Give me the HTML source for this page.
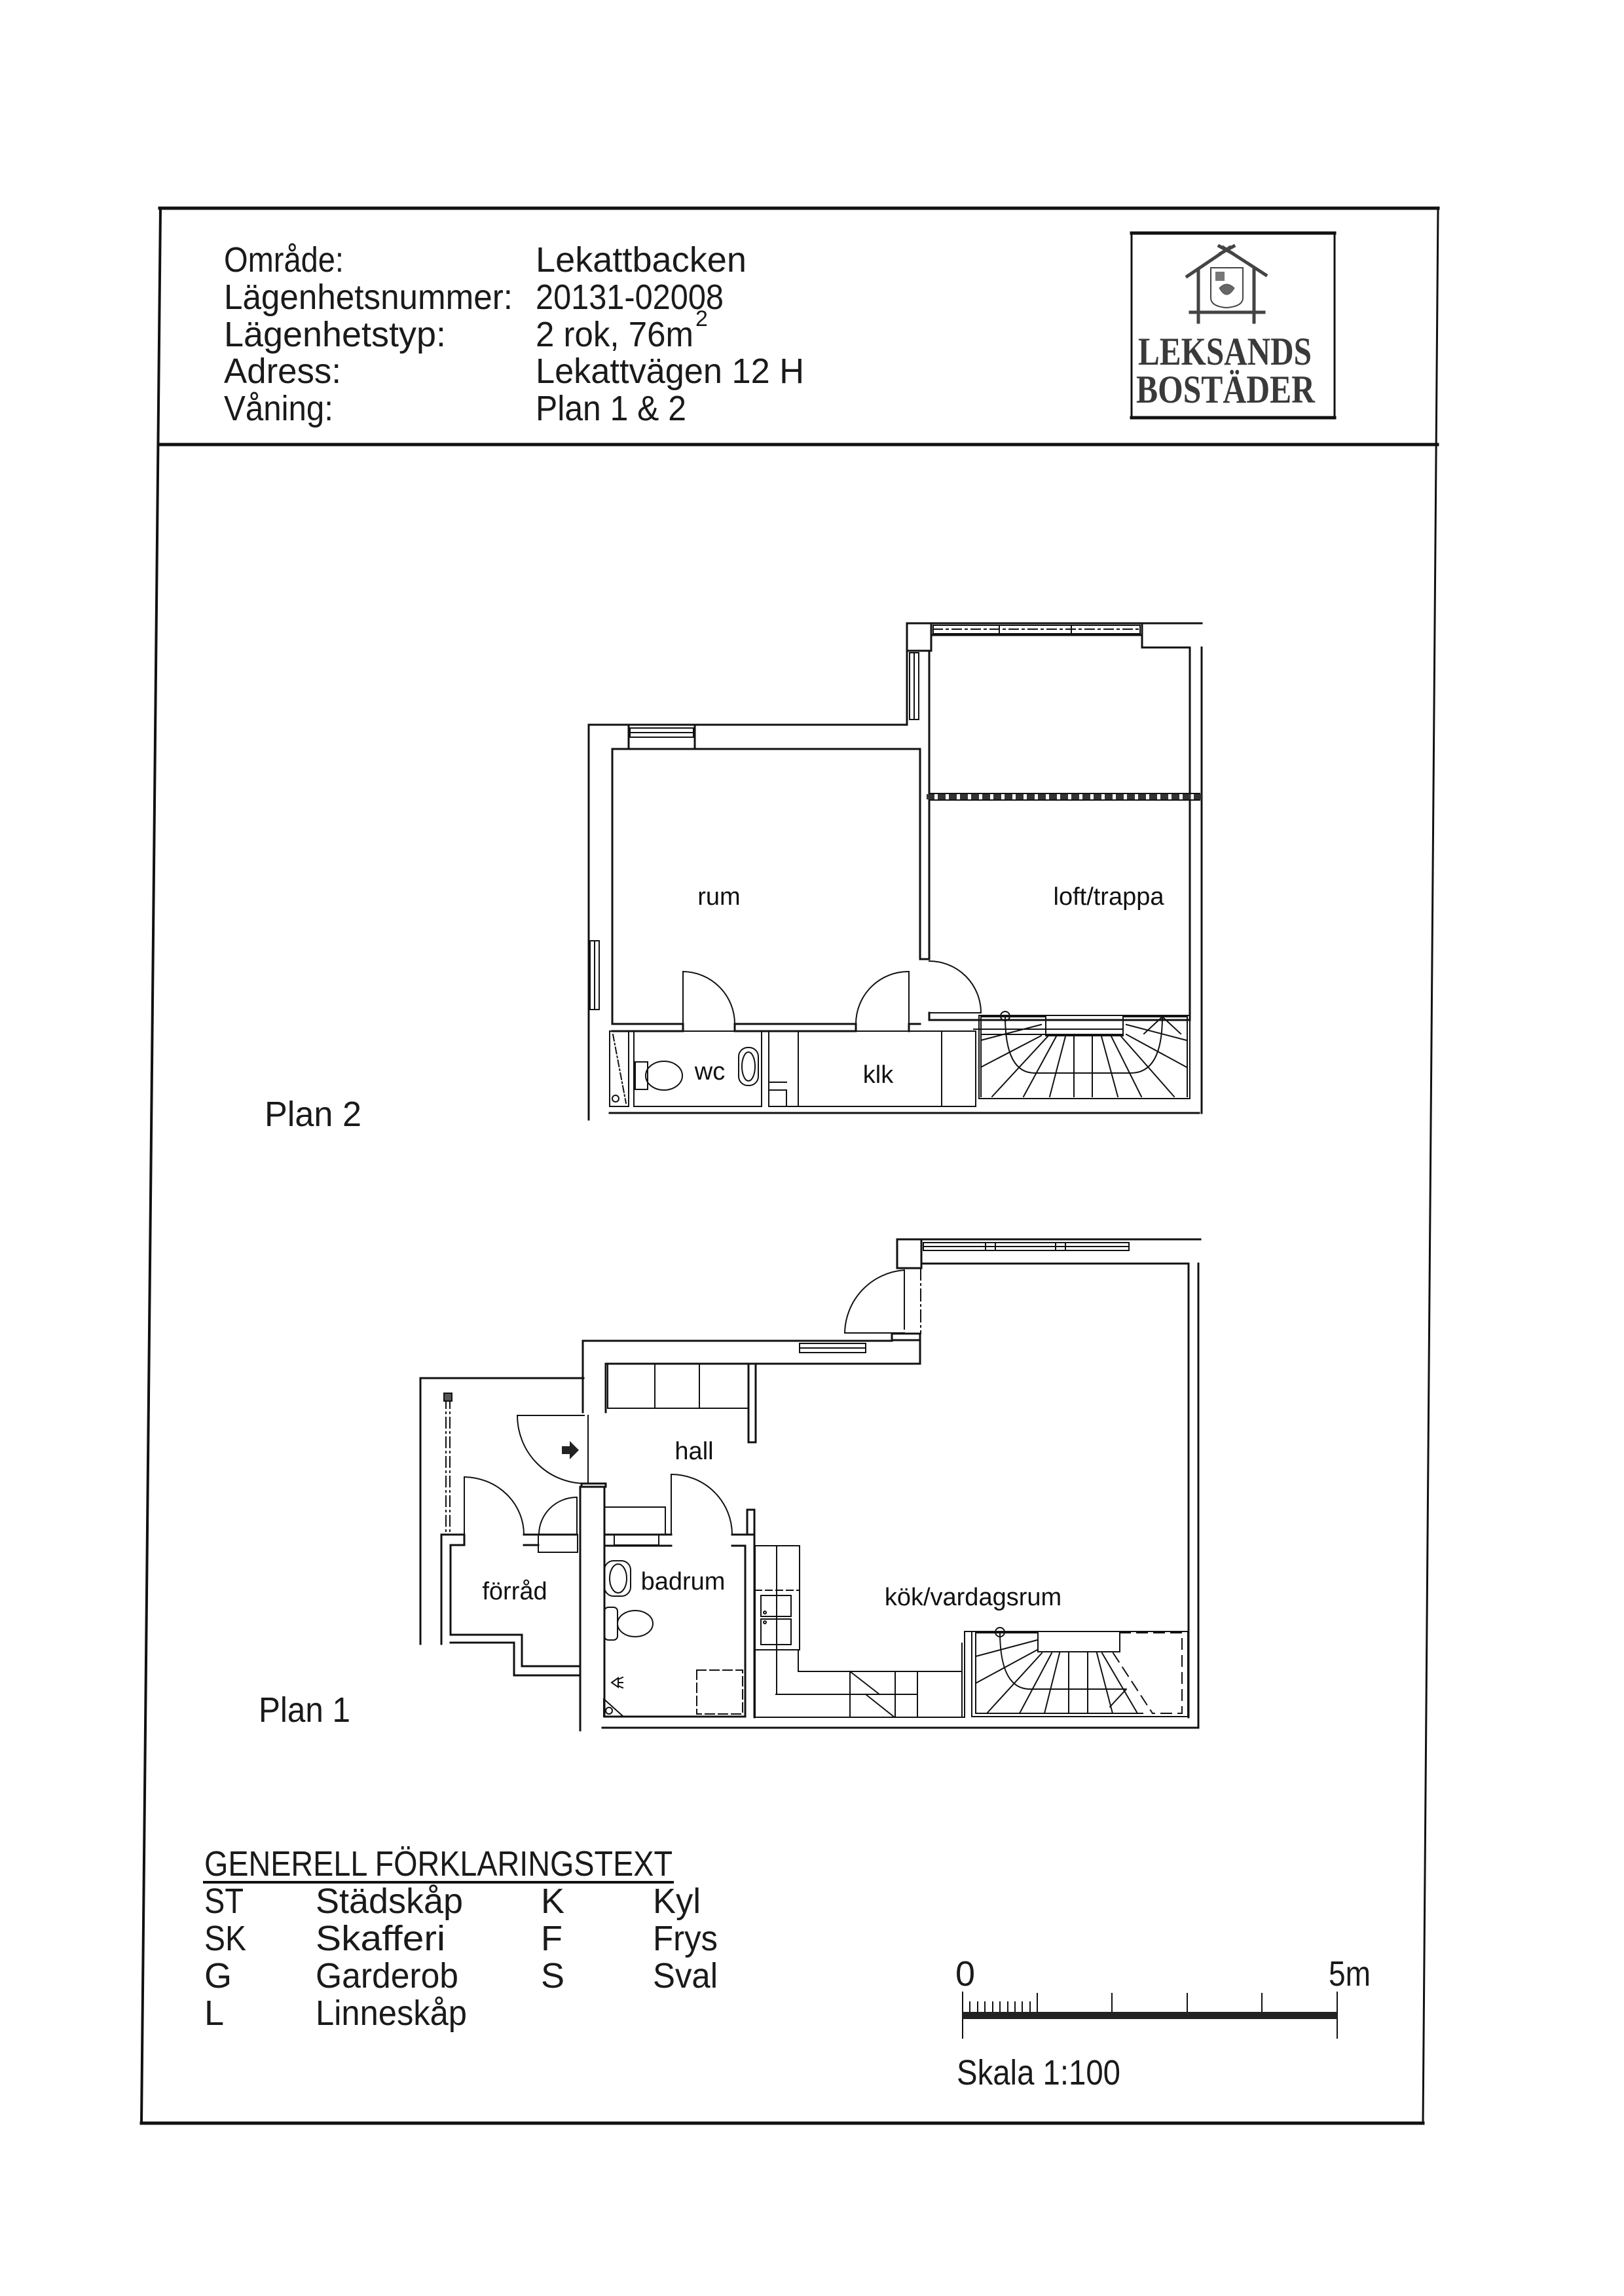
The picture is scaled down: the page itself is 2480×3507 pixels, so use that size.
<!DOCTYPE html>
<html><head><meta charset="utf-8"><style>
html,body{margin:0;padding:0;background:#fff}
svg{display:block}
.h{font-family:"Liberation Sans Narrow","Liberation Sans",sans-serif;fill:#1a1a1a}
.r{font-family:"Liberation Sans",sans-serif;fill:#111;font-size:38px}
</style></head><body>
<svg xmlns="http://www.w3.org/2000/svg" width="2480" height="3507" viewBox="0 0 2480 3507">
<g stroke="#111" fill="none" stroke-linecap="square">
<!-- frame -->
<line x1="244" y1="318" x2="2196" y2="318" stroke-width="5"/>
<line x1="245" y1="318" x2="216" y2="3243" stroke-width="4"/>
<line x1="2196" y1="318" x2="2173" y2="3243" stroke-width="3"/>
<line x1="216" y1="3243" x2="2173" y2="3243" stroke-width="5"/>
<line x1="244" y1="679" x2="2195" y2="679" stroke-width="5"/>
<!-- logo -->
<g transform="translate(-10,0)">
<rect x="1738" y="356" width="310" height="282" stroke-width="3"/>
<line x1="1738" y1="356" x2="2048" y2="356" stroke-width="5"/>
<line x1="1738" y1="638" x2="2048" y2="638" stroke-width="5"/>
<g stroke="#444" stroke-width="5">
<line x1="1823" y1="422" x2="1888" y2="378"/><line x1="1943" y1="420" x2="1878" y2="378"/>
<line x1="1872" y1="376" x2="1892" y2="387"/><line x1="1894" y1="376" x2="1874" y2="387"/>
<line x1="1840" y1="412" x2="1840" y2="492"/><line x1="1925" y1="412" x2="1925" y2="492"/>
<line x1="1828" y1="477" x2="1940" y2="477"/>
</g>
<path d="M1859 409 H1908 V455 Q1908 468 1883 470 Q1859 468 1859 455 Z" stroke="#444" stroke-width="2"/>
<path d="M1872 440 Q1883 428 1895 440 Q1883 460 1872 440Z" fill="#666" stroke="#555"/>
<rect x="1866" y="415" width="14" height="14" fill="#777" stroke="none"/>
</g>

<!-- ================= PLAN 2 ================= -->
<g stroke-width="3">
<polyline points="899,1710 899,1107 1385,1107 1385,952 1835,952"/>
<line x1="931" y1="1700" x2="1831" y2="1700"/>
<line x1="1835" y1="989" x2="1835" y2="1700"/>
<polyline points="935,1564 935,1144 1405,1144 1405,1465 1419,1465 1419,994"/>
<line x1="960" y1="1110" x2="960" y2="1144"/><line x1="1061" y1="1110" x2="1061" y2="1144"/>
<rect x="1385" y="952" width="37" height="42"/>
<line x1="1422" y1="970" x2="1744" y2="970"/>
<polyline points="1744,952 1744,989 1817,989 1817,1558"/>
<polyline points="935,1564 1043,1564 1043,1575"/>
<polyline points="1122,1575 1122,1564 1307,1564 1307,1575"/>
<polyline points="1388,1575 1388,1564 1405,1564"/>
<line x1="935" y1="1575" x2="1043" y2="1575"/>
<line x1="1122" y1="1575" x2="1307" y2="1575"/>
<polyline points="1419,1547 1419,1558 1817,1558"/>
</g>
<g stroke-width="2">
<rect x="962" y="1112" width="97" height="14"/><line x1="962" y1="1119" x2="1059" y2="1119"/>
<rect x="1389" y="997" width="14" height="102"/><line x1="1396" y1="997" x2="1396" y2="1099"/>
<rect x="901" y="1437" width="14" height="105"/><line x1="908" y1="1437" x2="908" y2="1542"/>
<rect x="1425" y="955" width="316" height="13"/>
<line x1="1425" y1="961" x2="1741" y2="961" stroke-dasharray="14 6 3 6"/>
<line x1="1526" y1="955" x2="1526" y2="968"/><line x1="1636" y1="955" x2="1636" y2="968"/>
<rect x="1419" y="1212" width="413" height="10"/>
<line x1="1419" y1="1217" x2="1832" y2="1217" stroke-dasharray="4 13" stroke-width="8" stroke="#333"/>
<line x1="1043" y1="1564" x2="1043" y2="1484"/><path d="M1043 1484 A80 80 0 0 1 1122 1564"/>
<line x1="1388" y1="1564" x2="1388" y2="1484"/><path d="M1388 1484 A80 80 0 0 0 1307 1564"/>
<line x1="1419" y1="1547" x2="1498" y2="1547"/><path d="M1419 1468 A79 79 0 0 1 1498 1547"/>
<rect x="968" y="1575" width="195" height="115"/>
<rect x="931" y="1575" width="29" height="115"/>
<line x1="936" y1="1580" x2="956" y2="1685" stroke-dasharray="10 4 2 4"/>
<circle cx="940" cy="1678" r="5"/>
<rect x="970" y="1622" width="19" height="42"/>
<ellipse cx="1014" cy="1643" rx="28" ry="22"/>
<rect x="1128" y="1600" width="30" height="58" rx="14"/><ellipse cx="1143" cy="1629" rx="10" ry="22"/>
<rect x="1174" y="1575" width="316" height="115"/>
<line x1="1219" y1="1575" x2="1219" y2="1690"/><line x1="1438" y1="1575" x2="1438" y2="1690"/>
<polyline points="1174,1665 1201,1665 1201,1690"/>
<line x1="1174" y1="1653" x2="1201" y2="1653"/>
<rect x="1495" y="1551" width="322" height="127"/>
<polyline points="1498,1675 1498,1553 1597,1553 1597,1582 1715,1582 1715,1553 1813,1553 1813,1675"/>
<line x1="1487" y1="1572" x2="1715" y2="1572"/><line x1="1498" y1="1580" x2="1715" y2="1580"/>
<path d="M1535 1553 Q1535 1639 1580 1639 L1727 1639 Q1775 1639 1775 1553"/>
<circle cx="1535" cy="1552" r="7"/>
<line x1="1498" y1="1589" x2="1590" y2="1565"/>
<line x1="1498" y1="1630" x2="1590" y2="1582"/>
<line x1="1515" y1="1675" x2="1600" y2="1583"/>
<line x1="1563" y1="1675" x2="1613" y2="1583"/>
<line x1="1603" y1="1675" x2="1627" y2="1583"/>
<line x1="1640" y1="1675" x2="1640" y2="1583"/>
<line x1="1668" y1="1675" x2="1668" y2="1583"/>
<line x1="1707" y1="1675" x2="1682" y2="1583"/>
<line x1="1743" y1="1675" x2="1697" y2="1583"/>
<line x1="1793" y1="1675" x2="1712" y2="1583"/>
<line x1="1720" y1="1565" x2="1812" y2="1589"/>
<line x1="1720" y1="1580" x2="1812" y2="1630"/>
<polyline points="1747,1579 1775,1553 1803,1579"/>
</g>

<!-- ================= PLAN 1 ================= -->
<g stroke-width="3">
<line x1="1370" y1="1893" x2="1833" y2="1893"/>
<rect x="1370" y="1893" width="37" height="44"/>
<polyline points="1407,1930 1815,1930 1815,2623"/>
<line x1="1830" y1="1930" x2="1830" y2="2639"/>
<line x1="920" y1="2639" x2="1830" y2="2639"/>
<rect x="1362" y="2037" width="43" height="10"/>
<polyline points="1405,2047 1405,2083 1154,2083"/>
<polyline points="890,2157 890,2048 1362,2048"/>
<line x1="925" y1="2083" x2="1143" y2="2083"/>
<line x1="925" y1="2083" x2="925" y2="2157"/>
<rect x="1143" y="2083" width="11" height="120"/>
<polyline points="891,2105 642,2105 642,2511"/>
<polyline points="886,2271 886,2643"/>
<polyline points="923,2302 923,2622"/>
<rect x="888" y="2266" width="37" height="5"/>
<line x1="886" y1="2271" x2="923" y2="2271"/>
<line x1="923" y1="2271" x2="923" y2="2302"/>
<polyline points="674,2344 674,2511"/>
<polyline points="688,2360 688,2497 797,2497 797,2545 886,2545"/>
<polyline points="688,2509 785,2509 785,2559 886,2559"/>
<polyline points="674,2344 709,2344 709,2360 688,2360"/>
<line x1="800" y1="2344" x2="881" y2="2344"/>
<line x1="800" y1="2360" x2="822" y2="2360"/>
<polyline points="923,2622 1138,2622 1138,2361"/>
<line x1="923" y1="2344" x2="1025" y2="2344"/>
<line x1="923" y1="2361" x2="1025" y2="2361"/>
<line x1="1118" y1="2344" x2="1152" y2="2344"/>
<line x1="1118" y1="2361" x2="1138" y2="2361"/>
<rect x="1141" y="2306" width="11" height="38"/>
<line x1="1152" y1="2306" x2="1152" y2="2623"/>
</g>
<g stroke-width="2">
<rect x="1221" y="2052" width="101" height="14"/><line x1="1221" y1="2059" x2="1322" y2="2059"/>
<rect x="1410" y="1898" width="314" height="12"/>
<line x1="1410" y1="1904" x2="1724" y2="1904"/>
<line x1="1505" y1="1898" x2="1505" y2="1910"/><line x1="1520" y1="1898" x2="1520" y2="1910"/>
<line x1="1612" y1="1898" x2="1612" y2="1910"/><line x1="1627" y1="1898" x2="1627" y2="1910"/>
<line x1="1406" y1="1937" x2="1406" y2="2037" stroke-dasharray="18 6 2 6"/>
<line x1="1381" y1="1940" x2="1381" y2="2030"/>
<path d="M1381 1940 A98 98 0 0 0 1290 2036"/>
<line x1="1290" y1="2036" x2="1381" y2="2036"/>
<rect x="928" y="2083" width="215" height="68"/>
<line x1="1000" y1="2083" x2="1000" y2="2151"/><line x1="1068" y1="2083" x2="1068" y2="2151"/>
<line x1="898" y1="2162" x2="898" y2="2266"/>
<line x1="790" y1="2162" x2="892" y2="2162"/>
<path d="M790 2162 A104 104 0 0 0 891 2266"/>
<path d="M858 2209 h12 v-8 l14 14 l-14 14 v-8 h-12z" fill="#222" stroke="none"/>
<line x1="681" y1="2135" x2="681" y2="2342" stroke-dasharray="16 6 2 6"/>
<line x1="687" y1="2135" x2="687" y2="2342" stroke-dasharray="16 6 2 6"/>
<rect x="678" y="2128" width="12" height="12" fill="#555"/>
<line x1="709" y1="2256" x2="709" y2="2344"/><path d="M709 2256 A92 88 0 0 1 800 2344"/>
<line x1="881" y1="2287" x2="881" y2="2344"/><path d="M881 2287 A58 57 0 0 0 823 2344"/>
<rect x="822" y="2344" width="60" height="27"/>
<rect x="923" y="2302" width="93" height="42"/>
<rect x="938" y="2344" width="68" height="16"/>
<line x1="1025" y1="2252" x2="1025" y2="2344"/><path d="M1025 2252 A93 92 0 0 1 1118 2344"/>
<rect x="923" y="2384" width="40" height="54" rx="14"/><ellipse cx="944" cy="2411" rx="13" ry="22"/>
<rect x="923" y="2455" width="20" height="50" rx="6"/>
<ellipse cx="970" cy="2480" rx="27" ry="20"/>
<rect x="1064" y="2551" width="70" height="67" stroke-dasharray="14 6"/>
<polyline points="922,2595 952,2622 922,2622 922,2595"/>
<circle cx="930" cy="2613" r="5"/>
<path d="M944 2563 l-10 7 l10 7 z M944 2565 l7 -3 M944 2570 l7 0 M944 2575 l7 3"/>
<rect x="1153" y="2361" width="68" height="159"/>
<line x1="1186" y1="2361" x2="1186" y2="2588"/>
<line x1="1153" y1="2429" x2="1221" y2="2429" stroke-dasharray="10 6"/>
<rect x="1162" y="2437" width="46" height="32"/><rect x="1162" y="2473" width="46" height="39"/>
<circle cx="1168" cy="2463" r="2"/><circle cx="1168" cy="2478" r="2"/>
<polyline points="1219,2520 1219,2553 1469,2553"/>
<line x1="1185" y1="2588" x2="1401" y2="2588"/>
<line x1="1153" y1="2520" x2="1153" y2="2623"/>
<line x1="1153" y1="2623" x2="1473" y2="2623"/>
<line x1="1298" y1="2553" x2="1298" y2="2623"/><line x1="1367" y1="2553" x2="1367" y2="2623"/><line x1="1401" y1="2553" x2="1401" y2="2623"/>
<line x1="1298" y1="2553" x2="1343" y2="2588"/><line x1="1322" y1="2588" x2="1366" y2="2623"/>
<line x1="1469" y1="2510" x2="1469" y2="2623"/><line x1="1473" y1="2492" x2="1473" y2="2623"/>
<line x1="1473" y1="2492" x2="1484" y2="2492"/>
<rect x="1484" y="2492" width="330" height="130"/>
<polyline points="1490,2617 1490,2494 1585,2494 1585,2523 1710,2523 1710,2494"/>
<line x1="1490" y1="2617" x2="1745" y2="2617"/>
<path d="M1527 2493 Q1527 2580 1573 2580 L1718 2580"/>
<circle cx="1527" cy="2493" r="7"/>
<line x1="1490" y1="2530" x2="1584" y2="2505"/>
<line x1="1490" y1="2571" x2="1584" y2="2520"/>
<line x1="1507" y1="2617" x2="1591" y2="2525"/>
<line x1="1557" y1="2617" x2="1606" y2="2525"/>
<line x1="1595" y1="2617" x2="1618" y2="2525"/>
<line x1="1632" y1="2617" x2="1632" y2="2525"/>
<line x1="1661" y1="2617" x2="1661" y2="2525"/>
<line x1="1699" y1="2617" x2="1675" y2="2525"/>
<line x1="1737" y1="2617" x2="1683" y2="2525"/>
<line x1="1695" y1="2607" x2="1720" y2="2580"/>
<line x1="1700" y1="2525" x2="1760" y2="2617" stroke-dasharray="16 10"/>
<polyline points="1710,2494 1805,2494 1805,2617 1760,2617" stroke-dasharray="16 10"/>
</g>

<!-- scale bar -->
<g transform="translate(-17,0)">
<g stroke-width="2">
<line x1="1487" y1="3043" x2="1487" y2="3113"/>
<line x1="2059" y1="3043" x2="2059" y2="3113"/>
<line x1="1601" y1="3045" x2="1601" y2="3075"/>
<line x1="1715" y1="3045" x2="1715" y2="3075"/>
<line x1="1830" y1="3045" x2="1830" y2="3075"/>
<line x1="1944" y1="3045" x2="1944" y2="3075"/>
<path d="M1498 3058v15M1510 3058v15M1521 3058v15M1533 3058v15M1544 3058v15M1556 3058v15M1567 3058v15M1578 3058v15M1590 3058v15"/>
</g>
<rect x="1487" y="3073" width="572" height="11" fill="#222" stroke="none"/>
</g>
<line x1="312" y1="2875" x2="1027" y2="2875" stroke-width="4"/>
</g>

<!-- header text -->
<g class="h" font-size="54">
<text x="342" y="415" textLength="183" lengthAdjust="spacingAndGlyphs">Område:</text>
<text x="342" y="472" textLength="441" lengthAdjust="spacingAndGlyphs">Lägenhetsnummer:</text>
<text x="342" y="529" textLength="339" lengthAdjust="spacingAndGlyphs">Lägenhetstyp:</text>
<text x="342" y="585" textLength="179" lengthAdjust="spacingAndGlyphs">Adress:</text>
<text x="342" y="642" textLength="167" lengthAdjust="spacingAndGlyphs">Våning:</text>
<text x="818" y="415" textLength="322" lengthAdjust="spacingAndGlyphs">Lekattbacken</text>
<text x="818" y="472" textLength="287" lengthAdjust="spacingAndGlyphs">20131-02008</text>
<text x="818" y="529" textLength="241" lengthAdjust="spacingAndGlyphs">2 rok, 76m</text>
<text x="1062" y="498" font-size="34">2</text>
<text x="818" y="585" textLength="410" lengthAdjust="spacingAndGlyphs">Lekattvägen 12 H</text>
<text x="818" y="642" textLength="230" lengthAdjust="spacingAndGlyphs">Plan 1 &amp; 2</text>

<text x="404" y="1720" textLength="148" lengthAdjust="spacingAndGlyphs">Plan 2</text>
<text x="395" y="2630" textLength="140" lengthAdjust="spacingAndGlyphs">Plan 1</text>

<text x="312" y="2865" textLength="715" lengthAdjust="spacingAndGlyphs">GENERELL FÖRKLARINGSTEXT</text>
<text x="312" y="2922" textLength="60" lengthAdjust="spacingAndGlyphs">ST</text>
<text x="482" y="2922" textLength="225" lengthAdjust="spacingAndGlyphs">Städskåp</text>
<text x="826" y="2922">K</text>
<text x="997" y="2922" textLength="73" lengthAdjust="spacingAndGlyphs">Kyl</text>
<text x="312" y="2979" textLength="64" lengthAdjust="spacingAndGlyphs">SK</text>
<text x="482" y="2979" textLength="198" lengthAdjust="spacingAndGlyphs">Skafferi</text>
<text x="826" y="2979">F</text>
<text x="997" y="2979" textLength="99" lengthAdjust="spacingAndGlyphs">Frys</text>
<text x="312" y="3036">G</text>
<text x="482" y="3036" textLength="218" lengthAdjust="spacingAndGlyphs">Garderob</text>
<text x="826" y="3036">S</text>
<text x="997" y="3036" textLength="99" lengthAdjust="spacingAndGlyphs">Sval</text>
<text x="312" y="3093">L</text>
<text x="482" y="3093" textLength="231" lengthAdjust="spacingAndGlyphs">Linneskåp</text>

<text x="1459" y="3033">0</text>
<text x="2029" y="3033" textLength="64" lengthAdjust="spacingAndGlyphs">5m</text>
<text x="1461" y="3184" textLength="250" lengthAdjust="spacingAndGlyphs">Skala 1:100</text>
</g>
<g font-family="Liberation Serif,serif" font-size="60" font-weight="bold" fill="#3a3a3a">
<text x="1738" y="557" textLength="265" lengthAdjust="spacingAndGlyphs">LEKSANDS</text>
<text x="1735" y="615" textLength="273" lengthAdjust="spacingAndGlyphs">BOSTÄDER</text>
</g>

<!-- room labels -->
<g class="r" text-anchor="middle">
<text x="1098" y="1382">rum</text>
<text x="1693" y="1382">loft/trappa</text>
<text x="1084" y="1649">wc</text>
<text x="1341" y="1654">klk</text>
<text x="1060" y="2229">hall</text>
<text x="786" y="2443">förråd</text>
<text x="1043" y="2428">badrum</text>
<text x="1486" y="2452">kök/vardagsrum</text>
</g>
</svg>
</body></html>
